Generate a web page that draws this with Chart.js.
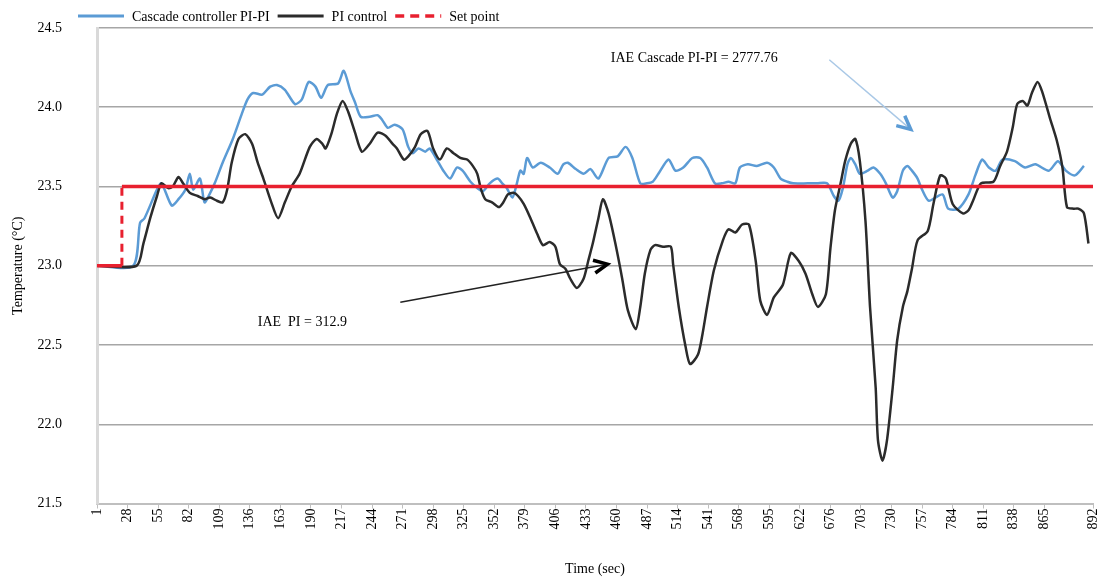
<!DOCTYPE html>
<html>
<head>
<meta charset="utf-8">
<title>Temperature response - Cascade PI-PI vs PI</title>
<script src="https://cdn.jsdelivr.net/npm/chart.js@4.4.1/dist/chart.umd.min.js"></script>
<style>
  html, body { margin: 0; padding: 0; background: #fff; }
  #wrap { width: 1098px; height: 578px; position: relative; }
</style>
</head>
<body>
<div id="wrap"><canvas id="tempChart"></canvas></div>
<script>
// Axis labels (one every 27 samples, 649 is missing in the original sheet)
var tickLabels = ['1','28','55','82','109','136','163','190','217','244','271','298','325','352','379','406','433',
  '460','487','514','541','568','595','622','676','703','730','757','784','811','838','865','892'];
var yTicks = [21.5, 22.0, 22.5, 23.0, 23.5, 24.0, 24.5];

// Cascade controller PI-PI
var cascadeTime = [1,33,39,43,54,58,67,73,79,83,86,92,96,101,105,112,121,129,134,139,147,154,160,167,176,182,188,194,199,205,
  214,219,225,229,234,242,249,253,258,264,271,276,280,285,291,295,302,307,313,319,324,331,337,342,348,355,359,363,368,372,
  375,378,381,386,393,401,408,413,417,424,431,437,444,453,461,468,474,481,487,492,497,506,512,519,527,534,540,547,553,559,
  565,569,576,584,593,599,605,611,616,629,637,646,652,656,660,664,667,671,675,682,687,693,698,704,708,713,717,721,726,730,
  736,748,753,762,771,777,783,789,795,801,812,821,830,842,850,857,865,873];
var cascadeTemp = [23.00,23.00,23.27,23.30,23.48,23.52,23.38,23.42,23.48,23.58,23.48,23.55,23.40,23.46,23.52,23.65,23.80,23.96,24.05,24.09,
  24.08,24.13,24.14,24.11,24.02,24.05,24.16,24.13,24.06,24.14,24.15,24.23,24.10,24.03,23.94,23.94,23.95,23.92,23.87,23.89,
  23.86,23.75,23.71,23.74,23.72,23.74,23.66,23.60,23.55,23.62,23.60,23.53,23.49,23.47,23.52,23.55,23.52,23.49,23.43,23.52,
  23.60,23.58,23.68,23.62,23.65,23.62,23.58,23.64,23.65,23.61,23.58,23.61,23.55,23.68,23.69,23.75,23.68,23.52,23.52,23.53,
  23.58,23.67,23.60,23.62,23.68,23.68,23.62,23.52,23.52,23.53,23.52,23.62,23.64,23.63,23.65,23.62,23.55,23.53,23.52,23.52,
  23.52,23.52,23.44,23.41,23.49,23.64,23.68,23.64,23.58,23.60,23.62,23.58,23.52,23.43,23.47,23.60,23.63,23.60,23.55,23.48,
  23.41,23.45,23.36,23.36,23.45,23.57,23.67,23.62,23.60,23.67,23.66,23.62,23.64,23.60,23.66,23.60,23.57,23.63];

// PI control
var piTime = [1,36,42,48,54,58,64,68,73,77,83,90,96,101,107,112,116,120,126,132,138,143,148,155,161,167,173,180,189,195,
  200,203,208,213,218,223,229,235,242,249,256,262,266,272,276,282,287,293,298,304,310,316,322,328,333,337,340,344,350,356,
  360,364,369,373,378,384,390,395,401,406,410,415,419,425,431,435,439,444,448,453,459,465,470,477,481,485,490,494,501,508,
  510,515,521,525,532,536,540,546,554,559,565,571,577,583,587,593,599,607,614,621,627,633,638,645,649,653,658,662,667,671,
  675,680,684,689,691,695,699,704,708,713,717,721,726,735,740,746,751,757,766,771,775,782,793,799,805,810,814,819,823,827,
  832,836,843,849,854,858,864,868,873,877];
var piTemp = [23.00,23.00,23.14,23.30,23.44,23.52,23.49,23.50,23.56,23.52,23.46,23.44,23.42,23.43,23.41,23.40,23.48,23.65,23.80,23.83,
  23.77,23.65,23.55,23.40,23.30,23.40,23.50,23.58,23.75,23.80,23.77,23.74,23.83,23.96,24.04,23.97,23.84,23.72,23.77,23.84,
  23.82,23.77,23.74,23.67,23.69,23.75,23.83,23.85,23.74,23.67,23.74,23.71,23.68,23.67,23.63,23.58,23.49,23.42,23.40,23.37,
  23.40,23.45,23.46,23.44,23.39,23.30,23.20,23.13,23.15,23.12,23.01,22.98,22.92,22.86,22.92,23.03,23.14,23.30,23.42,23.33,
  23.14,22.92,22.72,22.60,22.74,22.95,23.10,23.13,23.12,23.12,23.01,22.74,22.49,22.38,22.44,22.57,22.74,22.97,23.16,23.23,
  23.21,23.26,23.26,23.03,22.78,22.69,22.80,22.88,23.08,23.03,22.95,22.82,22.74,22.82,23.11,23.35,23.52,23.66,23.77,23.80,
  23.66,23.28,22.74,22.23,21.90,21.77,21.90,22.23,22.53,22.74,22.84,22.98,23.16,23.22,23.39,23.57,23.55,23.39,23.33,23.35,
  23.41,23.52,23.53,23.63,23.72,23.87,24.02,24.04,24.01,24.09,24.16,24.10,23.93,23.79,23.62,23.37,23.36,23.36,23.33,23.14];

// Set point (step from 23.0 to 23.5)
var setTime = [1, 23, 23, 881];
var setTemp = [23.0, 23.0, 23.5, 23.5];

var xMin = 1, xMax = 881;

function toPoints(xs, ys) {
  return xs.map(function(x, i) { return { x: x, y: ys[i] }; });
}

// Text notes with arrows, anchored in data units
var notes = [
  { text: 'IAE Cascade PI-PI = 2777.76', at: [455, 24.31], from: [648, 24.30], to: [720, 23.86],
    lineColor: '#a9c8e6', headColor: '#5b9bd5' },
  { text: 'IAE  PI = 312.9', at: [143, 22.64], box: [136, 22.78, 288, 22.52], from: [269, 22.77], to: [452, 23.01],
    lineColor: '#222', headColor: '#000' }
];

var serif = '"Liberation Serif", "Times New Roman", serif';
Chart.defaults.font.family = serif;
Chart.defaults.font.size = 14;
Chart.defaults.color = '#000';

function drawArrow(ctx, x1, y1, x2, y2, lineColor, headColor) {
  var ang = Math.atan2(y2 - y1, x2 - x1);
  ctx.save();
  ctx.strokeStyle = lineColor;
  ctx.lineWidth = 1.5;
  ctx.beginPath();
  ctx.moveTo(x1, y1);
  ctx.lineTo(x2, y2);
  ctx.stroke();
  ctx.strokeStyle = headColor;
  ctx.lineWidth = 3.5;
  ctx.lineJoin = 'miter';
  ctx.beginPath();
  ctx.moveTo(x2 - 15 * Math.cos(ang - 0.45), y2 - 15 * Math.sin(ang - 0.45));
  ctx.lineTo(x2, y2);
  ctx.lineTo(x2 - 15 * Math.cos(ang + 0.45), y2 - 15 * Math.sin(ang + 0.45));
  ctx.stroke();
  ctx.restore();
}

// Legend along the top and the IAE notes
var notesPlugin = {
  id: 'notesPlugin',
  afterDatasetsDraw: function(chart) {
    var ctx = chart.ctx, xs = chart.scales.x, ys = chart.scales.y;
    notes.forEach(function(n) {
      if (n.box) {
        var bx = xs.getPixelForValue(n.box[0]), by = ys.getPixelForValue(n.box[1]);
        ctx.fillStyle = '#fff';
        ctx.fillRect(bx, by, xs.getPixelForValue(n.box[2]) - bx, ys.getPixelForValue(n.box[3]) - by);
      }
      drawArrow(ctx, xs.getPixelForValue(n.from[0]), ys.getPixelForValue(n.from[1]),
        xs.getPixelForValue(n.to[0]), ys.getPixelForValue(n.to[1]), n.lineColor, n.headColor);
      ctx.save();
      ctx.font = '14px ' + serif;
      ctx.fillStyle = '#000';
      ctx.textBaseline = 'middle';
      ctx.fillText(n.text, xs.getPixelForValue(n.at[0]), ys.getPixelForValue(n.at[1]));
      ctx.restore();
    });
  },
  afterDraw: function(chart) {
    var ctx = chart.ctx;
    var x = 78, y = 17;
    ctx.save();
    ctx.font = '14px ' + serif;
    ctx.textBaseline = 'middle';
    chart.data.datasets.forEach(function(ds) {
      ctx.strokeStyle = ds.borderColor;
      ctx.lineWidth = ds.legendWidth;
      ctx.setLineDash(ds.legendDash || []);
      ctx.beginPath();
      ctx.moveTo(x, y - 1);
      ctx.lineTo(x + 46, y - 1);
      ctx.stroke();
      ctx.setLineDash([]);
      ctx.fillStyle = '#000';
      ctx.fillText(ds.label, x + 54, y);
      x = x + 54 + ctx.measureText(ds.label).width + 8;
    });
    ctx.restore();
  }
};

var ctx = document.getElementById('tempChart').getContext('2d');
var tempChart = new Chart(ctx, {
  type: 'line',
  data: {
    datasets: [{
      label: 'Cascade controller PI-PI',
      data: toPoints(cascadeTime, cascadeTemp),
      borderColor: '#5b9bd5',
      borderWidth: 2.5,
      legendWidth: 3,
      tension: 0.25,
      pointRadius: 0,
      order: 2
    }, {
      label: 'PI control',
      data: toPoints(piTime, piTemp),
      borderColor: '#2b2b2b',
      borderWidth: 2.5,
      legendWidth: 3,
      tension: 0.25,
      pointRadius: 0,
      order: 1
    }, {
      label: 'Set point',
      data: toPoints(setTime, setTemp),
      borderColor: '#e8202f',
      borderWidth: 3.5,
      legendWidth: 3.5,
      legendDash: [9, 6],
      tension: 0,
      pointRadius: 0,
      order: 0,
      segment: {
        // the step itself is drawn dashed
        borderDash: function(c) { return c.p0.parsed.x === c.p1.parsed.x ? [8, 6] : undefined; },
        borderWidth: function(c) { return c.p0.parsed.x === c.p1.parsed.x ? 3 : undefined; }
      }
    }]
  },
  options: {
    responsive: true,
    maintainAspectRatio: false,
    animation: false,
    devicePixelRatio: 1,
    layout: { padding: { top: 28, right: 5, left: 0, bottom: 0 } },
    plugins: {
      legend: { display: false },
      tooltip: { enabled: false }
    },
    scales: {
      x: {
        type: 'linear',
        min: xMin,
        max: xMax,
        afterBuildTicks: function(scale) {
          scale.ticks = tickLabels.map(function(l, i) {
            return { value: i === tickLabels.length - 1 ? xMax : 1 + 27 * i };
          });
        },
        afterFit: function(scale) {
          scale.height = 74.5;
          scale.paddingLeft = 0;
          scale.paddingRight = 0;
        },
        ticks: {
          autoSkip: false,
          minRotation: 90,
          maxRotation: 90,
          padding: 0,
          color: '#000',
          callback: function(value, index) { return tickLabels[index]; }
        },
        grid: { drawOnChartArea: false, drawTicks: true, tickLength: 5, color: '#bfbfbf' },
        border: { color: '#bfbfbf', width: 2 },
        title: { display: true, text: 'Time (sec)', color: '#000', padding: { top: 6, bottom: 0 } }
      },
      y: {
        min: yTicks[0],
        max: yTicks[yTicks.length - 1],
        afterBuildTicks: function(scale) {
          scale.ticks = yTicks.map(function(v) { return { value: v }; });
        },
        afterFit: function(scale) {
          scale.width = 97;
          scale.paddingTop = 0;
          scale.paddingBottom = 0;
        },
        ticks: {
          padding: 35,
          color: '#000',
          callback: function(value) { return Number(value).toFixed(1); }
        },
        grid: { color: '#a6a6a6', lineWidth: 1.5, drawTicks: false },
        border: { color: '#d9d9d9', width: 3 },
        title: { display: true, text: 'Temperature (°C)', color: '#000', padding: { top: 10, bottom: 0 } }
      }
    }
  },
  plugins: [notesPlugin]
});
</script>
</body>
</html>
